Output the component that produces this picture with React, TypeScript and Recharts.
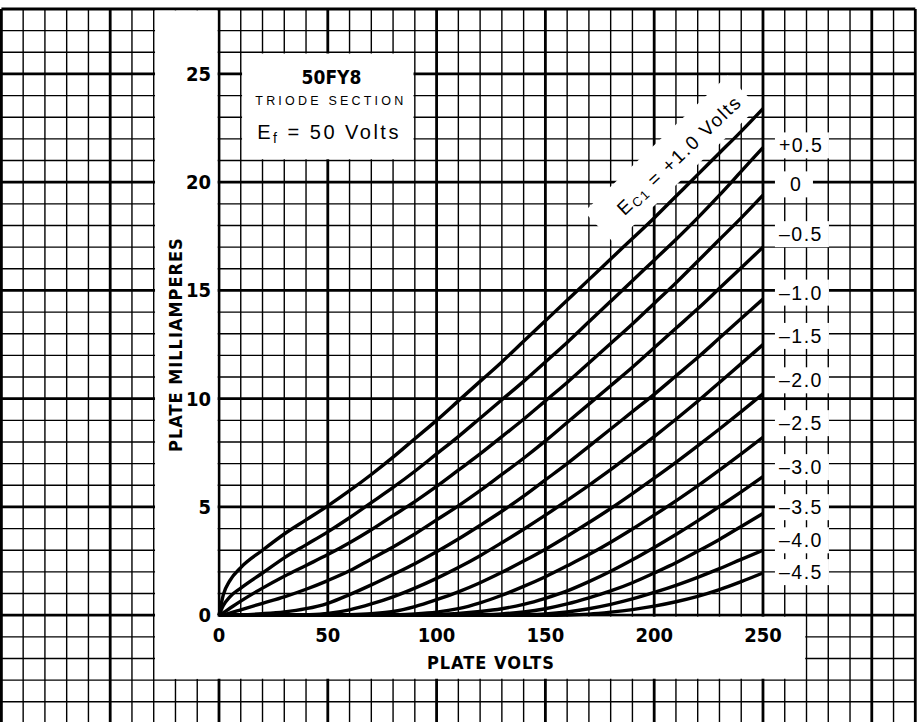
import React from "react";
import { LineChart, Line, XAxis, YAxis, ReferenceLine, ReferenceArea, ReferenceDot } from "recharts";

const plateVolts = [0, 2, 5, 10, 20, 30, 40, 50, 60, 70, 80, 90, 100, 110, 120, 130, 140, 150, 160, 170, 180, 190, 200, 210, 220, 230, 240, 250];

// plate milliamperes for each grid voltage
const maPos10 = [0, 0.95, 1.6, 2.2, 3.0, 3.75, 4.4, 5.05, 5.75, 6.5, 7.3, 8.15, 9.0, 9.9, 10.8, 11.7, 12.65, 13.6, 14.55, 15.5, 16.45, 17.4, 18.35, 19.35, 20.35, 21.35, 22.35, 23.4];
const maPos05 = [0, 0.45, 0.85, 1.25, 1.95, 2.65, 3.25, 3.85, 4.5, 5.2, 5.9, 6.65, 7.45, 8.25, 9.1, 9.95, 10.8, 11.7, 12.6, 13.55, 14.5, 15.45, 16.4, 17.35, 18.35, 19.4, 20.5, 21.6];
const maZero = [0, 0.12, 0.32, 0.65, 1.25, 1.8, 2.3, 2.8, 3.35, 3.95, 4.6, 5.25, 5.95, 6.7, 7.45, 8.25, 9.05, 9.9, 10.75, 11.65, 12.55, 13.45, 14.4, 15.35, 16.35, 17.35, 18.35, 19.4];
const maNeg05 = [0, 0.03, 0.1, 0.25, 0.55, 0.85, 1.2, 1.6, 2.05, 2.6, 3.15, 3.75, 4.4, 5.05, 5.75, 6.5, 7.25, 8.05, 8.9, 9.75, 10.6, 11.45, 12.35, 13.25, 14.15, 15.1, 16.05, 17.0];
const maNeg10 = [0, 0, 0.01, 0.02, 0.07, 0.15, 0.3, 0.55, 0.95, 1.4, 1.88, 2.38, 2.93, 3.52, 4.15, 4.8, 5.5, 6.25, 7.0, 7.8, 8.6, 9.4, 10.2, 11.05, 11.9, 12.8, 13.7, 14.6];
const maNeg15 = [0, 0, 0, 0, 0, 0, 0.02, 0.08, 0.25, 0.52, 0.85, 1.25, 1.7, 2.2, 2.75, 3.35, 3.97, 4.62, 5.3, 6.0, 6.72, 7.48, 8.25, 9.05, 9.88, 10.75, 11.62, 12.5];
const maNeg20 = [0, 0, 0, 0, 0, 0, 0, 0, 0.02, 0.07, 0.17, 0.4, 0.72, 1.08, 1.5, 1.98, 2.5, 3.05, 3.65, 4.28, 4.93, 5.62, 6.33, 7.06, 7.82, 8.6, 9.4, 10.22];
const maNeg25 = [0, 0, 0, 0, 0, 0, 0, 0, 0, 0, 0.02, 0.06, 0.14, 0.3, 0.57, 0.92, 1.33, 1.78, 2.28, 2.8, 3.37, 3.98, 4.62, 5.28, 5.97, 6.7, 7.45, 8.22];
const maNeg30 = [0, 0, 0, 0, 0, 0, 0, 0, 0, 0, 0, 0, 0.03, 0.08, 0.17, 0.3, 0.5, 0.78, 1.12, 1.55, 2.03, 2.56, 3.13, 3.73, 4.36, 5.02, 5.7, 6.4];
const maNeg35 = [0, 0, 0, 0, 0, 0, 0, 0, 0, 0, 0, 0, 0, 0, 0.02, 0.06, 0.15, 0.3, 0.52, 0.8, 1.12, 1.5, 1.95, 2.42, 2.95, 3.5, 4.1, 4.7];
const maNeg40 = [0, 0, 0, 0, 0, 0, 0, 0, 0, 0, 0, 0, 0, 0, 0, 0, 0.02, 0.06, 0.15, 0.3, 0.5, 0.75, 1.05, 1.38, 1.75, 2.15, 2.58, 3.0];
const maNeg45 = [0, 0, 0, 0, 0, 0, 0, 0, 0, 0, 0, 0, 0, 0, 0, 0, 0, 0, 0.01, 0.05, 0.14, 0.26, 0.42, 0.62, 0.87, 1.18, 1.55, 1.95];

const curves = [maPos10, maPos05, maZero, maNeg05, maNeg10, maNeg15, maNeg20, maNeg25, maNeg30, maNeg35, maNeg40, maNeg45];

// labels at the right end of the curves
const curveLabelText = ["+0.5", "0", "\u20130.5", "\u20131.0", "\u20131.5", "\u20132.0", "\u20132.5", "\u20133.0", "\u20133.5", "\u20134.0", "\u20134.5"];
const curveLabelMa = [21.7, 19.9, 17.6, 14.9, 12.9, 10.85, 8.87, 6.84, 4.99, 3.46, 1.99];

const xTicks = [0, 50, 100, 150, 200, 250];
const yTicks = [0, 5, 10, 15, 20, 25];

const gridX: number[] = [];
for (let v = -100; v <= 320; v += 10) gridX.push(v);
const gridY: number[] = [];
for (let i = -5; i <= 28; i++) gridY.push(i);

const bold = "'Liberation Sans Narrow', 'DejaVu Sans Condensed', 'Liberation Sans', sans-serif";
const plain = "'Liberation Sans', Arial, sans-serif";

const textShape = (text: React.ReactNode, o: any = {}) => (p: any) => (
  <text
    x={p.cx + (o.dx || 0)}
    y={p.cy}
    fontSize={o.size || 19}
    fontWeight={o.weight || "normal"}
    fontFamily={o.family || plain}
    letterSpacing={o.spacing || 0}
    textAnchor={o.anchor || "middle"}
    dominantBaseline="central"
    fill="#000"
    transform={o.rotate ? `rotate(${o.rotate} ${p.cx} ${p.cy})` : undefined}
  >
    {text}
  </text>
);

const labelBox = (text: string) => (p: any) => {
  const w = text.length > 1 ? 54 : 38;
  return (
    <g>
      <rect x={p.cx} y={p.cy - 13} width={w} height={26} fill="#fff" />
      <text x={p.cx + (text.length > 1 ? 4 : 15)} y={p.cy} fontSize={19.5} fontFamily={plain} letterSpacing={1.5} dominantBaseline="central" fill="#000">
        {text}
      </text>
    </g>
  );
};

const band = (p: any) => (
  <rect x={p.cx - 108} y={p.cy - 24} width={198} height={44} fill="#fff" transform={`rotate(-43.5 ${p.cx} ${p.cy})`} />
);

const white = { fill: "#fff", fillOpacity: 1, stroke: "none" };

export default function App() {
  return (
    <div style={{ position: "absolute", left: 0, top: 0, width: 923, height: 722, overflow: "hidden", background: "#fff" }}>
      <LineChart width={923} height={740} margin={{ top: 9, right: 7.7, bottom: 16.55, left: 1.4 }}>
        <XAxis type="number" dataKey="v" domain={[-100, 320]} hide allowDataOverflow />
        <YAxis type="number" domain={[-5, 28]} hide allowDataOverflow />

        {gridX.map((v) => (
          <ReferenceLine key={"gx" + v} x={v} stroke="#000" strokeWidth={v % 50 === 0 || v === 320 ? 2.8 : 1.4} zIndex={-50} />
        ))}
        {gridY.map((i) => (
          <ReferenceLine key={"gy" + i} y={i} stroke="#000" strokeWidth={i % 5 === 0 || i === 28 ? 2.8 : 1.4} zIndex={-50} />
        ))}

        <ReferenceArea x1={-29.4} x2={-0.65} y1={-2.94} y2={27.93} {...white} zIndex={50} />
        <ReferenceArea x1={-29.4} x2={269.4} y1={-2.94} y2={-0.07} {...white} zIndex={50} />
        <ReferenceArea x1={10.6} x2={89.4} y1={21.06} y2={25.94} {...white} zIndex={50} />
        <ReferenceDot x={211.4} y={21.27} r={0} shape={band} zIndex={60} ifOverflow="visible" />

        {curves.map((c, k) => (
          <Line
            key={"c" + k}
            data={plateVolts.map((v, j) => ({ v, ma: c[j] }))}
            dataKey="ma"
            type="monotone"
            stroke="#000"
            strokeWidth={3.4}
            dot={false}
            activeDot={false}
            isAnimationActive={false}
            zIndex={400}
          />
        ))}

        {curveLabelText.map((t, k) => (
          <ReferenceDot key={"l" + k} x={255.5} y={curveLabelMa[k]} r={0} shape={labelBox(t)} zIndex={2000} ifOverflow="visible" />
        ))}

        {xTicks.map((v) => (
          <ReferenceDot key={"xt" + v} x={v} y={-0.9} r={0} shape={textShape(String(v), { size: 20, weight: "bold", family: bold })} zIndex={2000} ifOverflow="visible" />
        ))}
        {yTicks.map((i) => (
          <ReferenceDot key={"yt" + i} x={-3.7} y={i} r={0} shape={textShape(String(i), { size: 20, weight: "bold", family: bold, anchor: "end" })} zIndex={2000} ifOverflow="visible" />
        ))}

        <ReferenceDot x={125} y={-2.17} r={0} shape={textShape("PLATE VOLTS", { size: 18, weight: "bold", family: bold, spacing: 1 })} zIndex={2000} ifOverflow="visible" />
        <ReferenceDot x={-20.2} y={12.5} r={0} shape={textShape("PLATE MILLIAMPERES", { size: 18, weight: "bold", family: bold, spacing: 1, rotate: -90 })} zIndex={2000} ifOverflow="visible" />

        <ReferenceDot x={51.7} y={24.84} r={0} shape={textShape("50FY8", { size: 19, weight: "bold", family: bold })} zIndex={2000} ifOverflow="visible" />
        <ReferenceDot x={51.4} y={23.75} r={0} shape={textShape("TRIODE SECTION", { size: 12.5, spacing: 3.2 })} zIndex={2000} ifOverflow="visible" />
        <ReferenceDot
          x={50.6}
          y={22.3}
          r={0}
          shape={textShape(
            <>
              <tspan>E</tspan>
              <tspan dy={6} fontSize={14}>f</tspan>
              <tspan dy={-6}> = 50 Volts</tspan>
            </>,
            { size: 20, spacing: 2.5 }
          )}
          zIndex={2000}
          ifOverflow="visible"
        />
        <ReferenceDot
          x={211.4}
          y={21.27}
          r={0}
          shape={textShape(
            <>
              <tspan>E</tspan>
              <tspan dy={5} fontSize={13}>C1</tspan>
              <tspan dy={-5}> = +1.0 Volts</tspan>
            </>,
            { size: 19, spacing: 1.8, rotate: -43.5 }
          )}
          zIndex={2000}
          ifOverflow="visible"
        />
      </LineChart>
    </div>
  );
}
